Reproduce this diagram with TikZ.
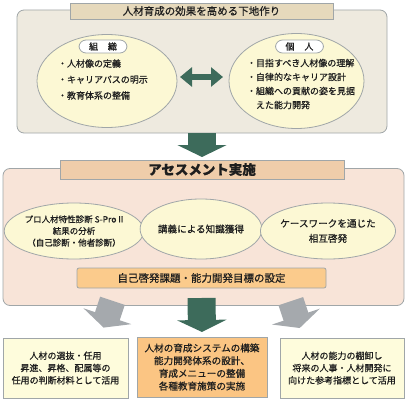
\documentclass[tikz,border=0pt]{standalone}
\usepackage{fontspec}
\setmainfont{Noto Sans CJK JP}[FakeBold=0.7]
\usetikzlibrary{shapes.geometric,arrows.meta}
\definecolor{topbg}{HTML}{EEEADF}
\definecolor{toptitle}{HTML}{E6D9BC}
\definecolor{ellfill}{HTML}{FCF8D4}
\definecolor{midbg}{HTML}{F8E4D8}
\definecolor{midtitle}{HTML}{EFCDAA}
\definecolor{orangebox}{HTML}{FBCB8C}
\definecolor{sidefill}{HTML}{FEFCDC}
\definecolor{midfill}{HTML}{FBC583}
\definecolor{dgreen}{HTML}{3D6B5B}
\definecolor{agray}{HTML}{A5A9AD}
\definecolor{bord}{HTML}{A0A6A8}
\definecolor{txt}{HTML}{1E1E1E}
\begin{document}
\begin{tikzpicture}[x=1pt,y=-1pt,
  every node/.style={text=txt, inner sep=0pt, outer sep=0pt},
  panel/.style={draw=bord, line width=0.8pt, rounded corners=7pt},
  tab/.style={draw=bord, line width=0.8pt},
  ell/.style={ellipse, draw=bord, line width=0.8pt, fill=ellfill, align=center},
  pill/.style={draw=bord, line width=0.8pt, fill=white, rounded corners=7pt, font=\fontsize{9}{11}\selectfont},
  bbox/.style={draw=bord, line width=0.8pt, align=center, font=\fontsize{9}{12.3}\selectfont},
  greenarrow/.style={draw=dgreen, line width=28pt, -{Triangle[length=12pt,width=49pt]}},
  grayarrow/.style={draw=agray, line width=26pt, -{Triangle[length=12pt,width=50pt]}},
  dblarrow/.style={draw=dgreen, line width=5.5pt, {Triangle[length=12pt,width=19pt]}-{Triangle[length=12pt,width=19pt]}}
]
\useasboundingbox (0,0) rectangle (407,404);

% ---------- top section ----------
\node[panel, fill=topbg, minimum width=370pt, minimum height=123pt] (topbox) at (202,71.5) {};
\node[tab, fill=toptitle, minimum width=263pt, minimum height=16pt, font=\fontsize{10.5}{12}\selectfont] (toptitle) at (201.5,11) {人材育成の効果を高める下地作り};

\node[ell, minimum width=140pt, minimum height=93pt] (ellL) at (107,81) {};
\node[ell, minimum width=135pt, minimum height=95pt] (ellR) at (296.5,81) {};

\node[pill, minimum width=48pt, minimum height=13pt] (labL) at (103,46.5) {組\hspace{1.1em}織};
\node[pill, minimum width=48pt, minimum height=13pt] (labR) at (299.5,46.5) {個\hspace{1.1em}人};

\node[anchor=west, align=left, font=\fontsize{9}{16}\selectfont] (listL) at (58,79.5)
  {・人材像の定義\\・キャリアパスの明示\\・教育体系の整備};
\node[anchor=west, align=left, font=\fontsize{9}{14}\selectfont] (listR) at (247,84)
  {・目指すべき人材像の理解\\・自律的なキャリア設計\\・組織への貢献の姿を見据\\\phantom{・}えた能力開発};

\draw[dblarrow] (ellL.east |- 0,77) ++(3,0) -- ([xshift=-6pt]ellR.west |- 0,77);

% ---------- middle section ----------
\node[panel, fill=midbg, minimum width=401pt, minimum height=137pt] (midbox) at (203.5,237) {};
\node[tab, fill=midtitle, minimum width=284pt, minimum height=19pt, font=\fontsize{13.5}{15}\selectfont\bfseries] (midtitle) at (202,169.5) {アセスメント実施};

\draw[greenarrow] (topbox.south) -- ([yshift=3pt]midtitle.north);

\node[ell, minimum width=118pt, minimum height=56pt, font=\fontsize{8.5}{11.7}\selectfont] (e1) at (74,231)
  {プロ人材特性診断 S-Pro II\\結果の分析\\（自己診断・他者診断）};
\node[ell, minimum width=118pt, minimum height=60pt, font=\fontsize{9.6}{12}\selectfont] (e2) at (201,229)
  {講義による知識獲得};
\node[ell, minimum width=120pt, minimum height=56pt, font=\fontsize{9.6}{15}\selectfont] (e3) at (328,231)
  {ケースワークを通じた\\相互啓発};

\node[draw=bord, line width=0.8pt, fill=orangebox, rounded corners=2pt, minimum width=249pt, minimum height=20pt, font=\fontsize{10.5}{12}\selectfont] (goal) at (201.5,278) {自己啓発課題・能力開発目標の設定};

% ---------- bottom section ----------
\node[bbox, fill=sidefill, minimum width=125pt, minimum height=60pt] (bL) at (65.5,368)
  {人材の選抜・任用\\昇進、昇格、配属等の\\任用の判断材料として活用};
\node[bbox, fill=midfill, minimum width=130pt, minimum height=60pt, font=\fontsize{9.6}{12.7}\selectfont] (bM) at (202,367)
  {人材の育成システムの構築\\能力開発体系の設計、\\育成メニューの整備\\各種教育施策の実施};
\node[bbox, fill=sidefill, minimum width=124pt, minimum height=60pt] (bR) at (342,368)
  {人材の能力の棚卸し\\将来の人事・人材開発に\\向けた参考指標として活用};

\coordinate (gLs) at (112.5,300.8);
\coordinate (gLe) at (103.6,327.6);
\coordinate (gRs) at (290.8,301.2);
\coordinate (gRe) at (299.7,328);
\draw[grayarrow] (gLs) -- (gLe);
\draw[grayarrow] (gRs) -- (gRe);
\coordinate (gMs) at (201.5,298);
\draw[greenarrow] (gMs) -- ([yshift=5pt]bM.north);
\end{tikzpicture}
\end{document}
